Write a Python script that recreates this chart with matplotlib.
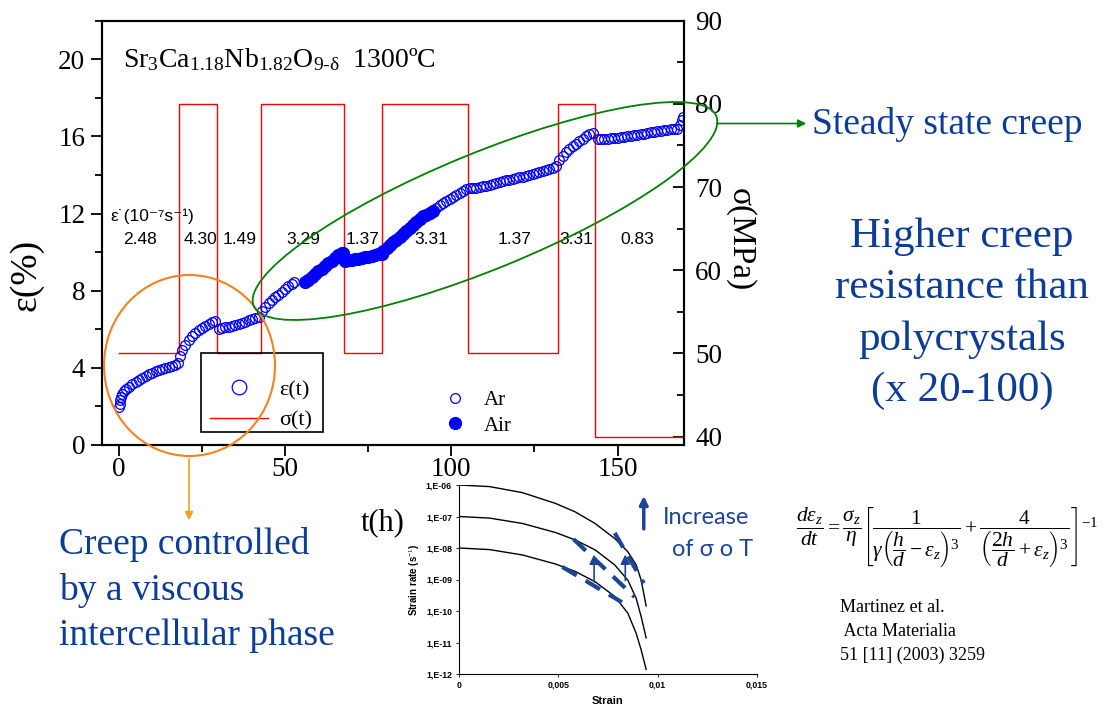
import matplotlib
matplotlib.use('Agg')
import matplotlib.pyplot as plt
from matplotlib.patches import Ellipse, Rectangle
from matplotlib.ticker import MultipleLocator, FixedLocator, FixedFormatter

plt.rcParams['font.family'] = ['Liberation Serif', 'DejaVu Serif']
plt.rcParams['mathtext.fontset'] = 'custom'
plt.rcParams['mathtext.rm'] = 'Liberation Serif'
plt.rcParams['mathtext.it'] = 'Liberation Serif:italic'
plt.rcParams['mathtext.bf'] = 'Liberation Serif:bold'

TXT_BLUE = '#0b3c98'
NAVY = '#1c4595'
SANS = ['Liberation Sans', 'DejaVu Sans']

# ---- creep test: stress steps (time in h, stress in MPa) ----
step_t = [0, 18.1, 29.6, 42.6, 67.7, 79.2, 105.1, 132.1, 143.2, 170]
step_s = [50, 80, 50, 80, 50, 80, 50, 80, 40, 40]

# ---- strain (%) vs time (h), test in Ar (open) ----
t_ar = [0, 0.2, 0.4, 0.7, 1.0, 1.5, 2, 3, 4, 5, 6, 7, 8, 9, 10, 11, 12, 13, 14, 15, 16, 17, 17.8,
        18.3, 19, 20, 21, 22, 23, 24, 25, 26, 27, 28, 29,
        30, 31, 32, 33, 34, 35, 36, 37, 38, 39, 40, 41, 42,
        43, 44, 45, 46, 47, 48, 49, 50, 51, 52, 52.8,
        95.5, 96.5, 97.5, 98.5, 99.5, 100.5, 101.5, 102.5, 103.5, 104.5,
        105.5, 106.5, 107.5, 108.5, 109.5, 110.5, 111.5, 112.5, 113.5, 114.5, 115.5, 116.5, 117.5,
        118.5, 119.5, 120.5, 121.5, 122.5, 123.5, 124.5, 125.5, 126.5, 127.5, 128.5, 129.5, 130.5, 131.5,
        132.5, 133.5, 134.5, 135.5, 136.5, 137.5, 138.5, 139.5, 140.5, 141.5, 142.5,
        144, 145, 146, 147, 148, 149, 150, 151, 152, 153, 154, 155, 156, 157, 158, 159, 160,
        161, 162, 163, 164, 165, 166, 167, 168, 168.7, 169.3, 169.8]
e_ar = [1.95, 2.15, 2.35, 2.5, 2.65, 2.78, 2.88, 3.02, 3.15, 3.27, 3.38, 3.48, 3.57, 3.66, 3.75, 3.82, 3.88, 3.94, 4.0, 4.05, 4.1, 4.16, 4.25,
        4.6, 4.9, 5.2, 5.45, 5.65, 5.8, 5.95, 6.07, 6.18, 6.28, 6.37, 6.45,
        6.02, 6.06, 6.1, 6.14, 6.18, 6.23, 6.28, 6.33, 6.4, 6.46, 6.52, 6.58, 6.65,
        6.95, 7.15, 7.35, 7.5, 7.65, 7.8, 7.95, 8.1, 8.22, 8.35, 8.45,
        12.3, 12.45, 12.55, 12.65, 12.75, 12.85, 12.95, 13.05, 13.15, 13.25,
        13.3, 13.32, 13.35, 13.38, 13.42, 13.45, 13.5, 13.55, 13.6, 13.64, 13.68, 13.72, 13.76,
        13.8, 13.84, 13.88, 13.92, 13.97, 14.02, 14.07, 14.12, 14.17, 14.22, 14.27, 14.32, 14.37, 14.45,
        14.8, 15.0, 15.2, 15.35, 15.5, 15.62, 15.75, 15.88, 16.0, 16.1, 16.2,
        15.85, 15.85, 15.87, 15.88, 15.9, 15.92, 15.94, 15.96, 15.98, 16.0, 16.03, 16.06, 16.09, 16.12, 16.15, 16.18, 16.21,
        16.24, 16.27, 16.3, 16.33, 16.35, 16.37, 16.38, 16.4, 16.6, 16.85, 17.0]

# ---- strain (%) vs time (h), test in air (filled) ----
t_air = [56, 57, 58, 59, 60, 61, 62, 63, 64, 65, 66, 67, 67.5,
         68, 69, 70, 71, 72, 73, 74, 75, 76, 77, 78, 79,
         79.5, 80.5, 81.5, 82.5, 83.5, 84.5, 85.5, 86.5, 87.5, 88.5, 89.5, 90.5, 91.5, 92.5, 93.5, 94.5]
e_air = [8.43, 8.58, 8.72, 8.86, 9.0, 9.14, 9.28, 9.42, 9.56, 9.7, 9.84, 9.95, 9.98,
         9.55, 9.58, 9.61, 9.64, 9.67, 9.7, 9.73, 9.76, 9.8, 9.84, 9.88, 9.92,
         10.05, 10.2, 10.35, 10.5, 10.65, 10.8, 10.95, 11.1, 11.25, 11.4, 11.55, 11.7, 11.85, 11.95, 12.05, 12.15]

# ---- steady-state strain rates (1e-7 s^-1) for each stress step ----
rate_lbl = ['2.48', '4.30', '1.49', '3.29', '1.37', '3.31', '1.37', '3.31', '0.83']
rate_t = [6.3, 24.4, 36.4, 55.4, 73.4, 94.1, 119.1, 137.7, 155.8]

# ---- model curves (inset): strain rate vs strain ----
strain_m = [0, 0.00154, 0.0032, 0.00486, 0.00585, 0.00685, 0.00784, 0.0085, 0.00892, 0.00917, 0.00942]
rate_m1 = [1.0e-6, 8.9e-7, 5.7e-7, 2.6e-7, 1.4e-7, 6.0e-8, 2.0e-8, 7.6e-9, 2.9e-9, 9.5e-10, 1.45e-10]
rate_m2 = [1.0e-7, 8.9e-8, 6.0e-8, 3.1e-8, 1.8e-8, 8.7e-9, 2.9e-9, 9.5e-10, 2.5e-10, 6.6e-11, 1.4e-11]
rate_m3 = [1.0e-8, 8.9e-9, 6.0e-9, 3.1e-9, 1.8e-9, 8.5e-10, 2.9e-10, 8.5e-11, 1.95e-11, 5.8e-12, 1.4e-12]
# dashed experimental segments
seg_x = [[0.0052, 0.0082], [0.00577, 0.00884], [0.00784, 0.0093]]
seg_y = [[2.5e-9, 1.9e-10], [1.9e-8, 2.8e-10], [3.0e-8, 7.6e-10]]
# vertical arrows (strain, from rate, to rate)
arr_x = [0.0068, 0.00837]
arr_y0 = [6.8e-10, 7.6e-10]
arr_y1 = [7.6e-9, 7.6e-9]

fig = plt.figure(figsize=(11.06, 7.07), dpi=100)

# ================= main creep plot =================
ax1 = fig.add_axes([102 / 1106, 1 - 445 / 707, 582 / 1106, 424.3 / 707])
ax2 = ax1.twinx()
ax1.set_zorder(ax2.get_zorder() + 1)
ax1.patch.set_visible(False)

red, = ax2.step(step_t, step_s, where='post', color='#ff0000', lw=1.0)
ar, = ax1.plot(t_ar, e_ar, 'o', ms=7, mfc='none', mec='#0000ff', mew=0.9)
air, = ax1.plot(t_air, e_air, 'o', ms=8.5, mfc='#0000ff', mec='#0000ff')

ax1.set_xlim(-5.1, 170)
ax1.set_ylim(0, 22)
ax2.set_ylim(39, 90)
ax1.set_xticks([0, 50, 100, 150])
ax1.xaxis.set_minor_locator(MultipleLocator(25))
ax1.set_yticks([0, 4, 8, 12, 16, 20])
ax1.yaxis.set_minor_locator(MultipleLocator(2))
ax2.set_yticks([40, 50, 60, 70, 80, 90])
ax2.yaxis.set_minor_locator(MultipleLocator(5))

ax1.tick_params(which='major', direction='out', length=8, width=1.3, labelsize=19.5, pad=4)
ax1.tick_params(which='minor', direction='out', length=5, width=1.3)
ax1.tick_params(axis='x', pad=1)
ax2.tick_params(which='major', direction='in', length=8, width=1.3, labelsize=19.5, pad=8)
ax2.tick_params(which='minor', direction='in', length=5, width=1.3)
for a in (ax1, ax2):
    for sp in a.spines.values():
        sp.set_linewidth(1.5)

ax1.set_ylabel('ε(%)', fontsize=27, va='center')
ax1.yaxis.set_label_coords(-0.13, 0.40)
ax2.set_ylabel('σ(MPa)', fontsize=24, rotation=270, va='center')
ax2.yaxis.set_label_coords(1.096, 0.483)
ax1.set_xlabel('t(h)', fontsize=22, va='center')
ax1.xaxis.set_label_coords(0.483, -0.184)

ax1.text(1.2, 20.0, r'Sr$_3$Ca$_{1.18}$Nb$_{1.82}$O$_{\mathrm{9\text{-}δ}}$  1300ºC',
         fontsize=20, va='center', ha='left')
ax1.text(-2.7, 11.85, 'ε˙(10⁻⁷s⁻¹)', fontsize=12.5, family=SANS, va='center', ha='left')
for lbl, tx in zip(rate_lbl, rate_t):
    ax1.text(tx, 10.65, lbl, fontsize=12.5, family=SANS, va='center', ha='center')

# legend 1: framed box drawn separately so the rows can sit where they do in the figure
ax1.add_patch(Rectangle((0.170, 0.0306), 0.2097, 0.186, transform=ax1.transAxes,
                        fill=False, ec='black', lw=1.2, zorder=5))
leg1 = ax1.legend([ar, red], ['ε(t)', 'σ(t)'], loc='center left',
                  bbox_to_anchor=(0.170, 0.0943), frameon=False, fontsize=16,
                  markerscale=1.5, handlelength=2.6, handletextpad=0.5,
                  labelspacing=0.45, borderaxespad=0)
ax1.add_artist(leg1)
ax1.legend([ar, air], ['Ar', 'Air'], loc='center left', bbox_to_anchor=(0.574, 0.0754),
           frameon=False, fontsize=15, handlelength=1, handletextpad=0.9,
           labelspacing=0.3, borderaxespad=0)

# ================= inset: model =================
ins = fig.add_axes([459 / 1106, 1 - 674 / 707, 298 / 1106, 189 / 707])
ins.set_yscale('log')
for r in (rate_m1, rate_m2, rate_m3):
    ins.plot(strain_m, r, color='black', lw=1.0)
for sx, sy in zip(seg_x, seg_y):
    ins.plot(sx, sy, color=NAVY, lw=3, dashes=(4, 2.5))
for x, y0, y1 in zip(arr_x, arr_y0, arr_y1):
    ins.annotate('', xy=(x, y1), xytext=(x, y0),
                 arrowprops=dict(arrowstyle='-|>', color=NAVY, lw=1.2, mutation_scale=14))
ins.annotate('', xy=(0.0093, 5.5e-7), xytext=(0.0093, 3.3e-8), annotation_clip=False,
             arrowprops=dict(arrowstyle='-|>', color=NAVY, lw=2.5, mutation_scale=12))
ins.set_xlim(0, 0.015)
ins.set_ylim(1e-12, 1e-6)
ins.yaxis.set_major_locator(FixedLocator([1e-12, 1e-11, 1e-10, 1e-9, 1e-8, 1e-7, 1e-6]))
ins.yaxis.set_major_formatter(FixedFormatter(['1,E-12', '1,E-11', '1,E-10', '1,E-09',
                                              '1,E-08', '1,E-07', '1,E-06']))
ins.yaxis.set_minor_locator(FixedLocator([]))
ins.set_xticks([0, 0.005, 0.01, 0.015])
ins.set_xticklabels(['0', '0,005', '0,01', '0,015'])
ins.tick_params(labelsize=6.3, length=2, width=0.6, pad=3)
for lab in ins.get_xticklabels() + ins.get_yticklabels():
    lab.set_family(SANS)
    lab.set_fontweight('bold')
ins.spines['top'].set_visible(False)
ins.spines['right'].set_visible(False)
ins.set_xlabel('Strain', fontsize=8, family=SANS, fontweight='bold', labelpad=4)
ins.set_ylabel('Strain rate (s$^{-1}$)', fontsize=7, family=SANS, fontweight='bold', labelpad=3)

# ================= overlay: annotations in pixel coords =================
ov = fig.add_axes([0, 0, 1, 1], zorder=10)
ov.set_xlim(0, 1106)
ov.set_ylim(707, 0)
ov.axis('off')
ov.patch.set_visible(False)

ov.add_patch(Ellipse((189.5, 365.5), 171, 181, fill=False, ec='#f5821f', lw=1.5))
ov.add_patch(Ellipse((485, 211), 500, 116, angle=-22.3, fill=False, ec='#008000', lw=1.3))
ov.annotate('', xy=(189, 523), xytext=(189, 456),
            arrowprops=dict(arrowstyle='-|>', color='#f4a01c', lw=1.2, mutation_scale=12))
ov.annotate('', xy=(809, 123.5), xytext=(714, 123.5),
            arrowprops=dict(arrowstyle='-|>', color='#008000', lw=1.2, mutation_scale=12))

ov.text(812, 125, 'Steady state creep', fontsize=27, color=TXT_BLUE, va='center', ha='left')
ov.text(962, 314, 'Higher creep\nresistance than\npolycrystals\n(x 20-100)', fontsize=31,
        color=TXT_BLUE, va='center', ha='center', multialignment='center', linespacing=1.44)
ov.text(59, 590, 'Creep controlled\nby a viscous\nintercellular phase', fontsize=27,
        color=TXT_BLUE, va='center', ha='left', linespacing=1.39)
ov.text(663, 517, 'Increase', fontsize=17, family=['Lato', 'DejaVu Sans'], color=NAVY,
        va='center', ha='left')
ov.text(713, 550, 'of σ o T', fontsize=17, family=['Lato', 'DejaVu Sans'], color=NAVY,
        va='center', ha='center')

ov.text(947, 537, r'$\dfrac{d\varepsilon_z}{dt}=\dfrac{\sigma_z}{\eta}\left[\dfrac{1}{\gamma\left(\dfrac{h}{d}-\varepsilon_z\right)^3}'
        r'+\dfrac{4}{\left(\dfrac{2h}{d}+\varepsilon_z\right)^3}\right]^{-1}$',
        fontsize=15.5, va='center', ha='center')
ov.text(840, 607, 'Martinez et al.', fontsize=13, va='center', ha='left')
ov.text(840, 631, ' Acta Materialia', fontsize=13, va='center', ha='left')
ov.text(840, 655, '51 [11] (2003) 3259', fontsize=13, va='center', ha='left')

fig.savefig('out.png', dpi=100)
